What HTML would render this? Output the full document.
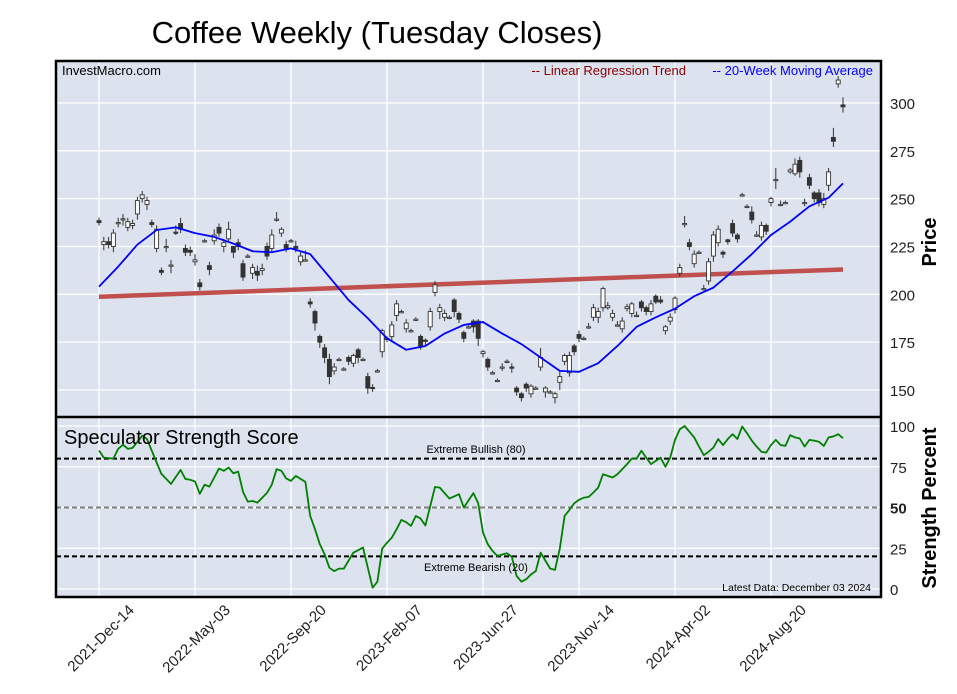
<!DOCTYPE html>
<html><head><meta charset="utf-8"><style>
html,body{margin:0;padding:0;background:#fff;}
svg{display:block;font-family:"Liberation Sans",Arial,sans-serif;}
</style></head><body>
<svg id="chart" width="957" height="694" viewBox="0 0 957 694">
<text x="377" y="43" font-size="31" text-anchor="middle" fill="#000">Coffee Weekly (Tuesday Closes)</text>
<rect x="56" y="61" width="825" height="356" fill="#dce2ee"/>
<rect x="56" y="417" width="825" height="180" fill="#dce2ee"/>
<g id="grid"></g>
<g id="marks"></g>
<rect x="56" y="61" width="825" height="536" fill="none" stroke="#000" stroke-width="2.5"/>
<line x1="56" y1="417" x2="881" y2="417" stroke="#000" stroke-width="2.5"/>
<text x="62" y="75" font-size="13">InvestMacro.com</text>
<text x="686" y="75" font-size="13" text-anchor="end" fill="#8b0000">-- Linear Regression Trend</text>
<text x="873" y="75" font-size="13" text-anchor="end" fill="#0000ff">-- 20-Week Moving Average</text>
<text x="64" y="444" font-size="20">Speculator Strength Score</text>
<text x="476" y="453" font-size="11" text-anchor="middle">Extreme Bullish (80)</text>
<text x="476" y="571" font-size="11" text-anchor="middle">Extreme Bearish (20)</text>
<text x="871" y="591" font-size="10.5" text-anchor="end">Latest Data: December 03 2024</text>
<text transform="translate(936,242) rotate(-90)" font-size="20" font-weight="bold" text-anchor="middle">Price</text>
<text transform="translate(936,508) rotate(-90)" font-size="20" font-weight="bold" text-anchor="middle">Strength Percent</text>
<g id="labels"></g>
</svg>
<script>
const dateLabels=["2021-Dec-14","2022-May-03","2022-Sep-20","2023-Feb-07","2023-Jun-27","2023-Nov-14","2024-Apr-02","2024-Aug-20"];
const dateWeeks=[0,20,40,60,80,100,120,140];
const priceTicks=[150,175,200,225,250,275,300];
const strengthTicks=[0,25,50,75,100];
const opens=[238.5,226,227.5,225,237,239,235,236,242,250,247,237.5,224,212.5,225,215,232.5,237,224,223,217,206,228,215,228,235,225,229,225,227,216,220,211,212,212.5,225,224,239,232,226,228,225,217,218,196,191,178,172,166,160,166,161,167,164,171,166,157,151.3,160,170,177,178,189,191,182,181,187,178,176,183,201,191,188,188,197,190,180,183,186,186,169,166,159,155,162,165,162,151,148,153,148,151,162,149,149,146,154,165,159,173,179,177,183,188,188,193,193,188,184,182,192.5,190,189,196,193,191,199,197,181,186,192,211,237,227,216,222,203,207,220,227,222,228.5,237,231,252,246,243,231,230,236,248,260,247,248,264,263,270,248,261,253,253,247,257,282,310,299];
const closes=[237.5,227.5,226,232,237.5,239.5,238,237,249,252,249,236.5,234,211.5,225,215.3,232,234,222,222,218,204,228,213,231,232,227,234,222,225,209,220,214,210,213.5,220,231,239.3,234,224,228,224,220,218,195,185,175,167,157,162,166,161,165,168,167,166,151,151,160,181,177,184,195,191,185,181,187,173,175.5,191,205,193,190,188,191,187,177,183,183,177,170,162,159,155,162,165,161.5,149,146,151,152,151,167,151,149,148,157,168,168,170,177,177,183,193,191,203,194,190,184,186,193.5,195,189,193,191,195,196,196,183,188,198,214,237,225,221,222,203,217,231,234,221,227.5,232,229,252,246,239,231,236,233,250,260,247,248,265,268,264,248,257,250,248,250,264,280,312,298];
const highs=[240,230,230,234,240,242,240,239,251,254,251,239,236,214,229,218,236,240,226,225,221,208,229,217,234,237,229,238,225,229,218,221,216,215,216,227,234,243,235,228,229,228,222,223,198,192,179,174,169,164,167,162,168,169,172,167,159,153,161,182,178,186,197,192,187,182,188,179,177,193,207,195,192,189,198,191,181,185,187,187,171,167,160,156,164,166,164,152,149,154,153,152,172,152,150,149,160,169,170,174,181,178,185,195,193,204,196,192,186,188,195,196,191,197,194,197,200,199,184,190,199,216,241,229,223,223,205,219,233,236,223,229,239,232,253,247,246,233,238,237,251,266,249,249,266,271,272,250,263,254,255,253,266,287,314,303];
const lows=[236,223,224,222,235,236,233,234,239,248,244,235,222,210,222,211,231,232,220,220,215,202,227,210,226,230,222,227,219,223,207,219,208,207,210,218,222,238,230,222,227,222,215,217,193,181,172,164,153,158,165,160,163,162,164,165,148,149,159,167,175,175,186,190,180,180,186,171,173,181,199,187,186,187,188,185,175,182,180,173,167,160,158,154,160,164,159,147,144,149,146,150,160,146,148,143,150,163,157,168,175,176,182,186,185,191,192,186,183,180,191,188,188,191,189,189,195,195,179,184,190,209,235,223,214,221,202,205,217,225,219,226,230,227,251,245,237,230,228,231,246,255,246,247,263,262,261,246,255,248,246,245,254,277,308,295];
const maWeeks=[0,4,8,12,16,20,24,28,32,36,40,44,48,52,56,60,64,68,72,76,80,84,88,92,96,100,104,108,112,116,120,124,128,132,136,140,144,148,152,155];
const maValues=[204,214.5,226,233.6,235,232,230,226.5,222.5,222,224,221,209,197,187.5,177,171,173,179.5,184,185.5,179.5,174,167,160,159.5,164,173,183,188,192.5,199,203.5,212,221,231,238,246,250.5,258];
const regWeeks=[0,155];
const regValues=[198.7,213];
const ssWeeks=[0,1,3,4,5,6,7,9,10,11,12,13,15,17,18,19,20,21,22,23,25,26,27,28,29,30,31,32,33,35,36,37,38,39,40,41,43,44,45,46,47,48,49,50,51,53,55,57,58,59,60,61,62,63,64,65,66,67,68,70,71,73,75,76,78,79,80,81,82,83,85,86,87,88,89,90,91,92,94,95,96,97,98,99,100,101,102,103,104,105,106,107,108,109,110,111,112,113,114,115,116,117,118,119,120,121,122,123,124,125,126,127,128,129,130,131,132,133,134,135,136,137,138,139,140,141,142,143,144,145,146,147,148,149,150,151,152,153,154,155];
const ssValues=[85,80.6,80,86,88.5,86,86.6,94,92,84.8,77.6,70.6,64.5,73,67.5,67,66,58.4,64,62.8,73.9,72.5,74.5,71,72,59.6,53.6,54,53,59,64,73.5,72.5,67.8,66.3,69.4,65.7,44.8,36.7,27.5,21.3,13,11,12.5,12.5,22.3,25.4,0.8,4.5,24.8,28.4,31.5,36.7,42.4,41,38.7,44.8,43.2,39,62.6,62.2,55.5,58.2,50,58.8,52.6,34.6,27.5,23.3,20.3,21.9,19.8,8,4.5,6,9,11,22.3,12.5,11.7,24.8,44.8,48.5,52.6,54.7,56,56.5,59.2,62.2,70.4,69.4,68.4,70.4,73.5,76.6,80,80,84.8,80.6,76.6,78.6,80.6,75,80.6,91.5,98,100,96.5,93,87.4,82.1,84.2,86.8,92,88.3,92,95,92,99.7,95.6,91,87.4,84.2,83.7,88.3,91.5,88.3,87.8,94.4,93,92.3,87.4,91.5,91,90.3,87.8,93,93.6,95,92.5,91];

const NS="http://www.w3.org/2000/svg";
const xW=w=>99+4.8*w;
const yP=p=>103+(300-p)*(47.83/25);
const yS=v=>589-v*1.63;
function mk(tag,attrs,parent){const e=document.createElementNS(NS,tag);for(const k in attrs)e.setAttribute(k,attrs[k]);parent.appendChild(e);return e;}
const grid=document.getElementById('grid'),marks=document.getElementById('marks'),labels=document.getElementById('labels');

dateWeeks.forEach((w,i)=>{
 const g=mk('line',{x1:xW(w),x2:xW(w),y1:61,y2:597,stroke:'#fff','stroke-width':1.3},grid);
 
 
 const x=xW(w);
 const t=mk('text',{transform:`translate(${x+36},${611}) rotate(-45)`,'font-size':15,'text-anchor':'end',fill:'#222'},labels);
 t.textContent=dateLabels[i];
 
 
});
priceTicks.forEach(p=>{
 const g=mk('line',{x1:56,x2:881,y1:yP(p),y2:yP(p),stroke:'#fff','stroke-width':1.3},grid);
 
 
 const t=mk('text',{x:890,y:yP(p)+6,'font-size':15,fill:'#222'},labels);
 t.textContent=p;
 
 
});
strengthTicks.forEach(v=>{
 const g=mk('line',{x1:56,x2:881,y1:yS(v),y2:yS(v),stroke:'#fff','stroke-width':1.3},grid);
 
 
 const t=mk('text',{x:890,y:yS(v)+6,'font-size':15,fill:'#222','font-weight':v===50?'bold':'normal'},labels);
 t.textContent=v;
 
 
});
[[80,'#000','extreme-bullish-line'],[50,'#808080','midline'],[20,'#000','extreme-bearish-line']].forEach(d=>{
 const l=mk('line',{x1:56,x2:881,y1:yS(d[0]),y2:yS(d[0]),stroke:d[1],'stroke-width':2,'stroke-dasharray':'5,3'},grid);
 
 
});
const reg=mk('line',{x1:xW(regWeeks[0]),y1:yP(regValues[0]),x2:xW(regWeeks[1]),y2:yP(regValues[1]),stroke:'#c0504d','stroke-width':4.5},marks);


opens.forEach((o,i)=>{
 const c=closes[i],x=xW(i),up=c>=o;
 const w=mk('line',{x1:x,x2:x,y1:yP(highs[i]),y2:yP(lows[i]),stroke:'#333','stroke-width':1},marks);
 
 
 const top=yP(Math.max(o,c)),bot=yP(Math.min(o,c));
 const b=mk('rect',{x:x-2,y:top,width:4,height:Math.max(1.2,bot-top),fill:up?'#fff':'#333',stroke:'#333','stroke-width':0.9},marks);
 
 
});
const ma=mk('polyline',{points:maWeeks.map((w,i)=>xW(w)+','+yP(maValues[i])).join(' '),fill:'none',stroke:'#0000ff','stroke-width':1.8,'stroke-linejoin':'round'},marks);


const ss=mk('polyline',{points:ssWeeks.map((w,i)=>xW(w)+','+yS(ssValues[i])).join(' '),fill:'none',stroke:'#008000','stroke-width':1.8,'stroke-linejoin':'round'},marks);


</script>
</body></html>
